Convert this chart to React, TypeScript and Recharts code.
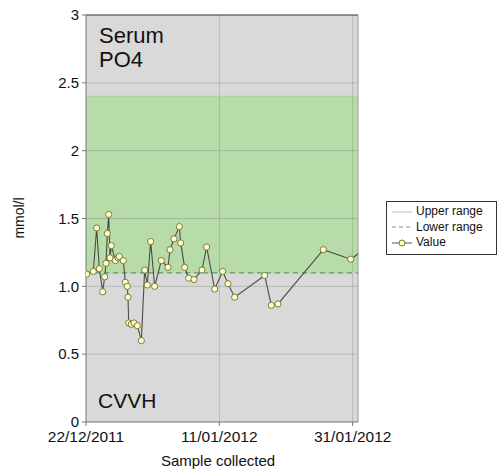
import React from "react";
import {
  ComposedChart,
  Line,
  XAxis,
  YAxis,
  CartesianGrid,
  ReferenceLine,
  Legend,
} from "recharts";

// days since 22/12/2011
const sampleDays = [
  0.1, 1.1, 1.6, 2.0, 2.5, 2.8, 3.0, 3.2, 3.4, 3.6, 3.8, 4.4, 4.8, 5.0, 5.6, 5.9,
  6.2, 6.3, 6.4, 6.8, 7.2, 7.7, 8.3, 8.8, 9.2, 9.7, 10.3, 11.3, 12.3, 12.6, 13.2,
  14.0, 14.2, 14.8, 15.4, 16.2, 17.4, 18.1, 19.3, 20.5, 21.3, 22.3, 26.8, 27.8,
  28.8, 35.6, 39.7, 42.0,
];
const po4Values = [
  1.09, 1.11, 1.43, 1.13, 0.96, 1.07, 1.17, 1.39, 1.53, 1.21, 1.3, 1.19, 1.21,
  1.22, 1.19, 1.03, 1.0, 0.92, 0.73, 0.72, 0.73, 0.71, 0.6, 1.12, 1.01, 1.33, 1.0,
  1.19, 1.14, 1.27, 1.35, 1.44, 1.32, 1.14, 1.06, 1.05, 1.12, 1.29, 0.98, 1.11,
  1.02, 0.92, 1.08, 0.86, 0.87, 1.27, 1.2, 1.28,
];

const upperRange = 2.4;
const lowerRange = 1.1;

const xTicks = [0, 20, 40];
const xTickLabels = ["22/12/2011", "11/01/2012", "31/01/2012"];
const yTicks = [0, 0.5, 1, 1.5, 2, 2.5, 3];
const yTickLabels = ["0", "0.5", "1.0", "1.5", "2", "2.5", "3"];

const rows = sampleDays.map((d, i) => ({ day: d, value: po4Values[i] }));

// grid rows incl. the range edges, top to bottom; the band is painted as grid stripes
const stripeEdges = [3, 2.5, upperRange, 2, 1.5, lowerRange, 1, 0.5];
const BAND = "#b7dca9";
const BG = "#d9d9d9";
const stripeFill = stripeEdges.map((v) => (v <= upperRange && v > lowerRange ? BAND : BG));

const FONT = "'Liberation Sans', Arial, Helvetica, sans-serif";

function LegendBox() {
  const item = (sample: React.ReactNode, label: string) => (
    <div style={{ display: "flex", alignItems: "center", height: 15.5 }}>
      <svg width={22} height={10} style={{ marginRight: 3 }}>
        {sample}
      </svg>
      <span>{label}</span>
    </div>
  );
  return (
    <div
      style={{
        boxSizing: "border-box",
        width: 111,
        border: "1px solid #333",
        background: "#fff",
        padding: "2px 4px 3px 4px",
        fontFamily: FONT,
        fontSize: 12,
        color: "#111",
        lineHeight: "15px",
      }}
    >
      {item(<line x1={1} x2={21} y1={5} y2={5} stroke="#9fd3a4" strokeWidth={1} />, "Upper range")}
      {item(
        <line x1={1} x2={21} y1={5} y2={5} stroke="#6fa877" strokeWidth={1.2} strokeDasharray="4 3" />,
        "Lower range"
      )}
      {item(
        <g>
          <line x1={1} x2={21} y1={5} y2={5} stroke="#555" strokeWidth={1} />
          <circle cx={11} cy={5} r={3} fill="#ffffcc" stroke="#7a7a3a" />
        </g>,
        "Value"
      )}
    </div>
  );
}

function stripeRows({ yAxis, offset }: any) {
  const scale =
    yAxis && typeof yAxis.scale === "function"
      ? yAxis.scale
      : (v: number) => offset.top + offset.height * (1 - v / 3);
  return stripeEdges.map((v) => scale(v));
}

export default function App() {
  return (
    <div style={{ position: "absolute", left: 0, top: 0, width: 497, height: 472, background: "#fff" }}>
      <ComposedChart
        width={497}
        height={472}
        data={rows}
        margin={{ top: 15, right: 28, bottom: 20, left: 36 }}
      >
        <CartesianGrid
          fill={BG}
          stroke="rgba(60,60,60,0.2)"
          horizontalCoordinatesGenerator={stripeRows}
          verticalValues={[20, 40]}
          horizontalFill={stripeFill}
        />
        <ReferenceLine y={upperRange} stroke="#a8d8a6" strokeWidth={1} />
        <ReferenceLine y={lowerRange} stroke={BAND} strokeWidth={1.5} />
        <ReferenceLine y={lowerRange} stroke="#6fa877" strokeWidth={1.5} strokeDasharray="5 4" />
        <ReferenceLine y={3} stroke="#444" strokeWidth={1} />
        <ReferenceLine x={40.8} stroke="#9a9a9a" strokeWidth={1} />
        <XAxis
          dataKey="day"
          type="number"
          domain={[0, 40.8]}
          allowDataOverflow
          ticks={xTicks}
          tickFormatter={(v) => xTickLabels[xTicks.indexOf(Number(v))] ?? ""}
          tick={{ fill: "#111", fontSize: 15.5, fontFamily: FONT }}
          tickSize={4}
          tickMargin={5}
          height={30}
          stroke="#777"
          label={{
            content: () => (
              <text x={218} y={466} textAnchor="middle" fontSize={15} fontFamily={FONT} fill="#111">
                Sample collected
              </text>
            ),
          }}
        />
        <YAxis
          type="number"
          domain={[0, 3]}
          ticks={yTicks}
          tickFormatter={(v) => yTickLabels[yTicks.indexOf(Number(v))] ?? ""}
          tick={{ fill: "#111", fontSize: 15, fontFamily: FONT }}
          tickSize={4}
          tickMargin={3}
          width={50}
          stroke="#777"
          label={{
            content: () => (
              <text
                x={19}
                y={218}
                transform="rotate(-90 19 218)"
                textAnchor="middle"
                dominantBaseline="central"
                fontSize={14}
                fontFamily={FONT}
                fill="#111"
              >
                mmol/l
              </text>
            ),
          }}
        />
        <Legend
          layout="vertical"
          align="right"
          verticalAlign="top"
          content={() => <LegendBox />}
          wrapperStyle={{ left: 386, top: 201, width: 111 }}
        />
        <Line
          dataKey="value"
          type="linear"
          stroke="#4a4a4a"
          strokeWidth={1.1}
          dot={{ r: 3.1, fill: "#ffffcc", stroke: "#7a7a3a", strokeWidth: 1 }}
          activeDot={false}
          isAnimationActive={false}
        />
      </ComposedChart>
      <div style={{ position: "absolute", left: 99, top: 24, fontFamily: FONT, fontSize: 22, lineHeight: "24px", color: "#111" }}>
        Serum
        <br />
        PO4
      </div>
      <div style={{ position: "absolute", left: 98, top: 389, fontFamily: FONT, fontSize: 21, lineHeight: "24px", color: "#111" }}>
        CVVH
      </div>
    </div>
  );
}
